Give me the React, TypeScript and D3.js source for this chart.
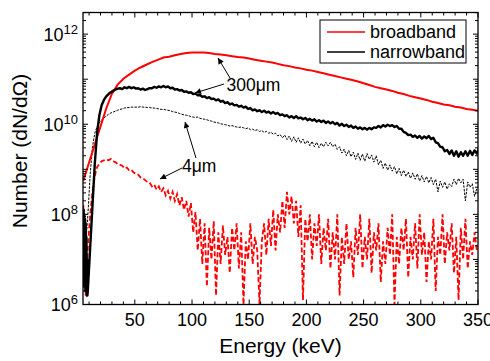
import React, { useRef, useEffect } from "react";
import * as d3 from "d3";

// axis setup
const E_MIN = 4.7;
const E_MAX = 350;
const LOG_MIN = 6;
const LOG_MAX = 12.48;
const xMajorTicks = [50, 100, 150, 200, 250, 300, 350];
const yLabelExps = [6, 8, 10, 12];

// broadband, 300 um: log10(dN/dOmega), every 5 keV starting at 5 keV
const broad300Start = 5;
const broad300Step = 5;
const broad300 = [
  8.75, 9.15, 9.55, 9.95, 10.35, 10.68, 10.88, 11.01, 11.1, 11.19, 11.26, 11.32,
  11.38, 11.43, 11.48, 11.5, 11.53, 11.56, 11.58, 11.59, 11.59, 11.59, 11.58,
  11.56, 11.55, 11.53, 11.51, 11.49, 11.48, 11.46, 11.43, 11.41, 11.39, 11.37,
  11.34, 11.31, 11.29, 11.26, 11.24, 11.21, 11.19, 11.16, 11.13, 11.1, 11.07,
  11.04, 11.01, 10.98, 10.95, 10.91, 10.87, 10.83, 10.8, 10.77, 10.74, 10.7,
  10.67, 10.63, 10.6, 10.57, 10.54, 10.5, 10.47, 10.44, 10.42, 10.39, 10.37,
  10.34, 10.32, 10.3,
];

// narrowband, 300 um: noisy onset as [keV, log10]
const narrow300Onset = [
  [5.0, 7.3], [5.3, 8.1], [5.6, 6.4], [5.9, 8.0], [6.2, 6.5], [6.5, 7.9],
  [6.8, 6.3], [7.1, 7.8], [7.4, 6.4], [7.7, 7.5], [8.0, 6.2], [8.3, 7.0],
  [8.6, 6.2],
];
// then every 2 keV from 9 keV
const narrow300Start = 9;
const narrow300Step = 2;
const narrow300 = [
  6.35, 7.27, 8.2, 9.12, 9.8, 10.2, 10.42, 10.54, 10.62, 10.67, 10.71, 10.74,
  10.77, 10.79, 10.8, 10.78, 10.82, 10.8, 10.83, 10.8, 10.82, 10.79, 10.8,
  10.77, 10.79, 10.76, 10.78, 10.8, 10.8, 10.83, 10.81, 10.84, 10.82, 10.85, 10.82,
  10.84, 10.8, 10.81, 10.77, 10.78, 10.75, 10.76, 10.72, 10.73, 10.7, 10.71,
  10.67, 10.68, 10.64, 10.65, 10.61, 10.62, 10.58, 10.6, 10.56, 10.57, 10.53,
  10.55, 10.5, 10.52, 10.47, 10.49, 10.44, 10.46, 10.42, 10.43, 10.39, 10.41,
  10.37, 10.39, 10.34, 10.36, 10.31, 10.33, 10.29, 10.31, 10.27, 10.3, 10.26,
  10.28, 10.24, 10.27, 10.23, 10.25, 10.2, 10.22, 10.18, 10.2, 10.15, 10.18,
  10.14, 10.18, 10.13, 10.15, 10.11, 10.14, 10.09, 10.12, 10.08, 10.11, 10.06,
  10.09, 10.05, 10.08, 10.03, 10.06, 10.02, 10.05, 10.0, 10.03, 9.97, 10.01,
  9.96, 9.99, 9.94, 9.97, 9.92, 9.95, 9.9, 9.93, 9.89, 9.92, 9.88,
  9.92, 9.89, 9.93, 9.92, 9.96, 9.93, 9.98, 9.95, 9.99, 9.96, 9.98,
  9.94, 9.96, 9.9, 9.9, 9.83, 9.81, 9.76, 9.77, 9.72, 9.75, 9.7,
  9.74, 9.68, 9.73, 9.69, 9.74, 9.67, 9.7, 9.6, 9.58, 9.5, 9.49,
  9.4, 9.43, 9.34, 9.42, 9.3, 9.4, 9.28, 9.38, 9.3, 9.4, 9.3,
  9.41, 9.32, 9.42, 9.35, 9.47,
];

// narrowband, 4 um: every 2 keV from 5 keV
const narrow4Start = 5;
const narrow4Step = 2;
const narrow4 = [
  6.6, 7.3, 8.0, 8.9, 9.5, 9.8, 9.95, 10.04, 10.1, 10.14, 10.18, 10.22, 10.25,
  10.27, 10.29, 10.31, 10.33, 10.34, 10.36, 10.37, 10.37, 10.38, 10.38, 10.38,
  10.38, 10.39, 10.38, 10.38, 10.37, 10.37, 10.36, 10.36, 10.35, 10.34, 10.33,
  10.33, 10.32, 10.31, 10.3, 10.28, 10.27, 10.26, 10.24, 10.22, 10.21, 10.2,
  10.19, 10.17, 10.16, 10.15, 10.16, 10.13, 10.12, 10.11, 10.1, 10.08, 10.07,
  10.05, 10.04, 10.03, 10.01, 10.0, 9.99, 9.98, 9.96, 9.97, 9.95, 9.94, 9.93,
  9.94, 9.92, 9.9, 9.92, 9.88, 9.89, 9.86, 9.88, 9.84, 9.86, 9.82, 9.84, 9.8,
  9.82, 9.78, 9.8, 9.74, 9.77, 9.7, 9.76, 9.66, 9.74, 9.62, 9.72, 9.6, 9.7,
  9.58, 9.67, 9.56, 9.64, 9.52, 9.62, 9.5, 9.6, 9.48, 9.58, 9.5, 9.6, 9.52, 9.6,
  9.5, 9.56, 9.44, 9.5, 9.36, 9.45, 9.3, 9.42, 9.28, 9.38, 9.22, 9.36, 9.2,
  9.34, 9.18, 9.35, 9.22, 9.32, 9.16, 9.3, 9.1, 9.2, 9.02, 9.14, 8.98, 9.1,
  8.96, 9.06, 8.9, 9.02, 8.86, 8.98, 8.84, 8.94, 8.8, 8.92, 8.78, 8.9, 8.74,
  8.86, 8.72, 8.84, 8.7, 8.82, 8.66, 8.78, 8.5, 8.74, 8.6, 8.72, 8.56, 8.68,
  8.62, 8.78, 8.66, 8.8, 8.7, 8.78, 8.3, 8.72, 8.6, 8.68, 8.4, 8.58,
];

// broadband, 4 um: every 2 keV from 5 keV
const broad4Start = 5;
const broad4Step = 2;
const broad4 = [
  8.2, 6.2, 7.3, 8.0, 8.5, 8.85, 9.05, 9.12, 9.18, 9.2, 9.22, 9.2, 9.23, 9.18,
  9.16, 9.12, 9.1, 9.08, 9.02, 9.04, 8.98, 8.99, 8.93, 8.9, 8.88, 8.82, 8.8,
  8.76, 8.72, 8.7, 8.62, 8.66, 8.55, 8.62, 8.5, 8.58, 8.42, 8.52, 8.35, 8.5,
  8.3, 8.45, 8.2, 8.38, 8.1, 8.3, 7.95, 8.25, 7.6, 8.05, 7.2, 7.9, 6.9, 7.8,
  6.4, 7.7, 7.0, 7.85, 6.2, 7.6, 6.9, 7.75, 7.1, 7.5, 6.7, 7.7, 7.2, 7.8, 6.8,
  7.6, 6.0, 7.4, 7.0, 7.8, 6.9, 7.5, 7.2, 6.0, 7.4, 7.8, 7.1, 7.9, 7.3, 8.1,
  7.2, 8.0, 7.6, 8.3, 7.7, 8.5, 8.0, 8.4, 7.8, 8.3, 7.5, 8.2, 6.1, 7.9, 7.4,
  8.0, 7.0, 7.8, 7.3, 8.0, 6.9, 7.7, 7.2, 7.9, 6.8, 7.6, 7.0, 8.0, 6.2, 7.5,
  6.9, 7.8, 7.0, 7.4, 6.6, 7.7, 7.1, 8.0, 6.8, 7.5, 7.0, 7.9, 6.7, 7.6, 7.2,
  7.8, 6.5, 7.4, 6.9, 7.7, 7.1, 8.0, 6.0, 7.5, 6.9, 7.7, 7.2, 7.9, 6.6, 7.5,
  7.0, 7.8, 6.8, 8.0, 7.1, 7.6, 6.5, 7.4, 7.0, 7.9, 6.3, 7.5, 7.1, 8.0, 6.9,
  7.6, 7.2, 7.8, 6.7, 7.5, 6.1, 7.7, 7.0, 7.9, 6.8, 7.4, 7.1, 7.6, 7.2,
];

const legendItems = [
  { label: "broadband", color: "#ff0000" },
  { label: "narrowband", color: "#000000" },
];

const width = 490;
const height = 361;
const margin = { top: 12.5, right: 12, bottom: 56.5, left: 83 };
const FONT = "'Liberation Sans', Arial, Helvetica, sans-serif";

const toPoints = (start: number, step: number, arr: number[]) =>
  arr.map((v, i) => [start + i * step, v] as [number, number]);

const App = () => {
  const svgRef = useRef<SVGSVGElement>(null);

  useEffect(() => {
    const svg = d3.select(svgRef.current);
    svg.selectAll("*").remove();

    const x0 = margin.left;
    const x1 = width - margin.right;
    const y0 = height - margin.bottom;
    const y1 = margin.top;

    const x = d3.scaleLinear().domain([E_MIN, E_MAX]).range([x0, x1]);
    const y = d3
      .scaleLog()
      .domain([10 ** LOG_MIN, 10 ** LOG_MAX])
      .range([y0, y1]);

    svg
      .append("defs")
      .append("clipPath")
      .attr("id", "plot-clip")
      .append("rect")
      .attr("x", x0)
      .attr("y", y1)
      .attr("width", x1 - x0)
      .attr("height", y0 - y1);

    const marker = svg
      .select("defs")
      .append("marker")
      .attr("id", "arrow")
      .attr("viewBox", "0 0 10 10")
      .attr("refX", 10)
      .attr("refY", 5)
      .attr("markerWidth", 8)
      .attr("markerHeight", 6)
      .attr("markerUnits", "userSpaceOnUse")
      .attr("orient", "auto");
    marker.append("path").attr("d", "M0,0 L10,5 L0,10 Z").attr("fill", "#000");

    // data lines
    const line = d3
      .line<[number, number]>()
      .x((d) => x(d[0]))
      .y((d) => y(10 ** d[1]));

    const plot = svg.append("g").attr("clip-path", "url(#plot-clip)");

    const broad4Pts = toPoints(broad4Start, broad4Step, broad4);
    const narrow4Pts = toPoints(narrow4Start, narrow4Step, narrow4);
    const narrow300Pts = [
      ...(narrow300Onset as [number, number][]),
      ...toPoints(narrow300Start, narrow300Step, narrow300),
    ];
    const broad300Pts = toPoints(broad300Start, broad300Step, broad300);

    plot
      .append("path")
      .attr("d", line(broad4Pts))
      .attr("fill", "none")
      .attr("stroke", "#ff0000")
      .attr("stroke-width", 1.8)
      .attr("stroke-dasharray", "5,2.5");

    plot
      .append("path")
      .attr("d", line(narrow4Pts))
      .attr("fill", "none")
      .attr("stroke", "#000")
      .attr("stroke-width", 1)
      .attr("stroke-dasharray", "2.5,1.2");

    plot
      .append("path")
      .attr("d", line(broad300Pts))
      .attr("fill", "none")
      .attr("stroke", "#ff0000")
      .attr("stroke-width", 2);

    plot
      .append("path")
      .attr("d", line(narrow300Pts))
      .attr("fill", "none")
      .attr("stroke", "#000")
      .attr("stroke-width", 2.4)
      .attr("stroke-linejoin", "round");

    // ticks (inward) on all four sides
    const xMinor = d3.range(10, 350, 10).filter((v) => v % 50 !== 0);
    const yMajor = d3.range(LOG_MIN, 13).map((e) => 10 ** e);
    const yMinor: number[] = [];
    d3.range(LOG_MIN, 13).forEach((e) => {
      for (let k = 2; k <= 9; k++) {
        const v = k * 10 ** e;
        if (Math.log10(v) < LOG_MAX) yMinor.push(v);
      }
    });

    const ticks = svg.append("g").attr("stroke", "#000").attr("stroke-width", 1);
    const tick = (xa: number, ya: number, xb: number, yb: number) =>
      ticks.append("line").attr("x1", xa).attr("y1", ya).attr("x2", xb).attr("y2", yb);

    xMajorTicks.forEach((v) => {
      tick(x(v), y0, x(v), y0 - 5);
      tick(x(v), y1, x(v), y1 + 5);
    });
    xMinor.forEach((v) => {
      tick(x(v), y0, x(v), y0 - 3);
      tick(x(v), y1, x(v), y1 + 3);
    });
    yMajor.forEach((v) => {
      tick(x0, y(v), x0 + 5, y(v));
      tick(x1, y(v), x1 - 5, y(v));
    });
    yMinor.forEach((v) => {
      tick(x0, y(v), x0 + 3, y(v));
      tick(x1, y(v), x1 - 3, y(v));
    });

    // frame
    svg
      .append("rect")
      .attr("x", x0)
      .attr("y", y1)
      .attr("width", x1 - x0)
      .attr("height", y0 - y1)
      .attr("fill", "none")
      .attr("stroke", "#000")
      .attr("stroke-width", 1.3);

    // x tick labels
    svg
      .append("g")
      .selectAll("text")
      .data(xMajorTicks)
      .join("text")
      .attr("x", (d) => x(d))
      .attr("y", y0 + 21)
      .attr("text-anchor", "middle")
      .attr("font-family", FONT)
      .attr("font-size", 18)
      .text((d) => d);

    // y tick labels 10^n
    const yl = svg
      .append("g")
      .selectAll("text")
      .data(yLabelExps)
      .join("text")
      .attr("x", 78)
      .attr("y", (d) => y(10 ** d) + 6.5)
      .attr("text-anchor", "end")
      .attr("font-family", FONT)
      .attr("font-size", 18);
    yl.append("tspan").text("10");
    yl.append("tspan")
      .attr("dy", -7)
      .attr("font-size", 13)
      .text((d) => d);

    // axis titles
    svg
      .append("text")
      .attr("x", (x0 + x1) / 2)
      .attr("y", 353)
      .attr("text-anchor", "middle")
      .attr("font-family", FONT)
      .attr("font-size", 21)
      .text("Energy (keV)");

    svg
      .append("text")
      .attr("transform", `translate(27,151) rotate(-90)`)
      .attr("text-anchor", "middle")
      .attr("font-family", FONT)
      .attr("font-size", 21)
      .text("Number (dN/d\u03A9)");

    // legend
    const lg = svg.append("g");
    lg.append("rect")
      .attr("x", 320)
      .attr("y", 20)
      .attr("width", 146)
      .attr("height", 43)
      .attr("fill", "#fff")
      .attr("stroke", "#000")
      .attr("stroke-width", 1);
    legendItems.forEach((d, i) => {
      const ly = 32 + i * 20;
      lg.append("line")
        .attr("x1", 327)
        .attr("x2", 365)
        .attr("y1", ly)
        .attr("y2", ly)
        .attr("stroke", d.color)
        .attr("stroke-width", 1.5);
      lg.append("text")
        .attr("x", 370)
        .attr("y", ly + 5.8)
        .attr("font-family", FONT)
        .attr("font-size", 18)
        .text(d.label);
    });

    // annotations
    const note = (label: string, tx: number, ty: number) =>
      svg
        .append("text")
        .attr("x", tx)
        .attr("y", ty)
        .attr("font-family", FONT)
        .attr("font-size", 17.5)
        .text(label);
    const arrow = (xa: number, ya: number, xb: number, yb: number) =>
      svg
        .append("line")
        .attr("x1", xa)
        .attr("y1", ya)
        .attr("x2", xb)
        .attr("y2", yb)
        .attr("stroke", "#000")
        .attr("stroke-width", 1)
        .attr("marker-end", "url(#arrow)");

    note("300\u03BCm", 226.5, 90.7);
    arrow(230, 78, 218, 58);
    arrow(224, 84, 195, 93);

    note("4\u03BCm", 182, 171.7);
    arrow(196, 158, 185, 122);
    arrow(182, 168, 160, 179);
  }, []);

  return (
    <svg
      ref={svgRef}
      width={width}
      height={height}
      style={{ position: "absolute", left: 0, top: 0, background: "#fff" }}
    />
  );
};

export default App;
